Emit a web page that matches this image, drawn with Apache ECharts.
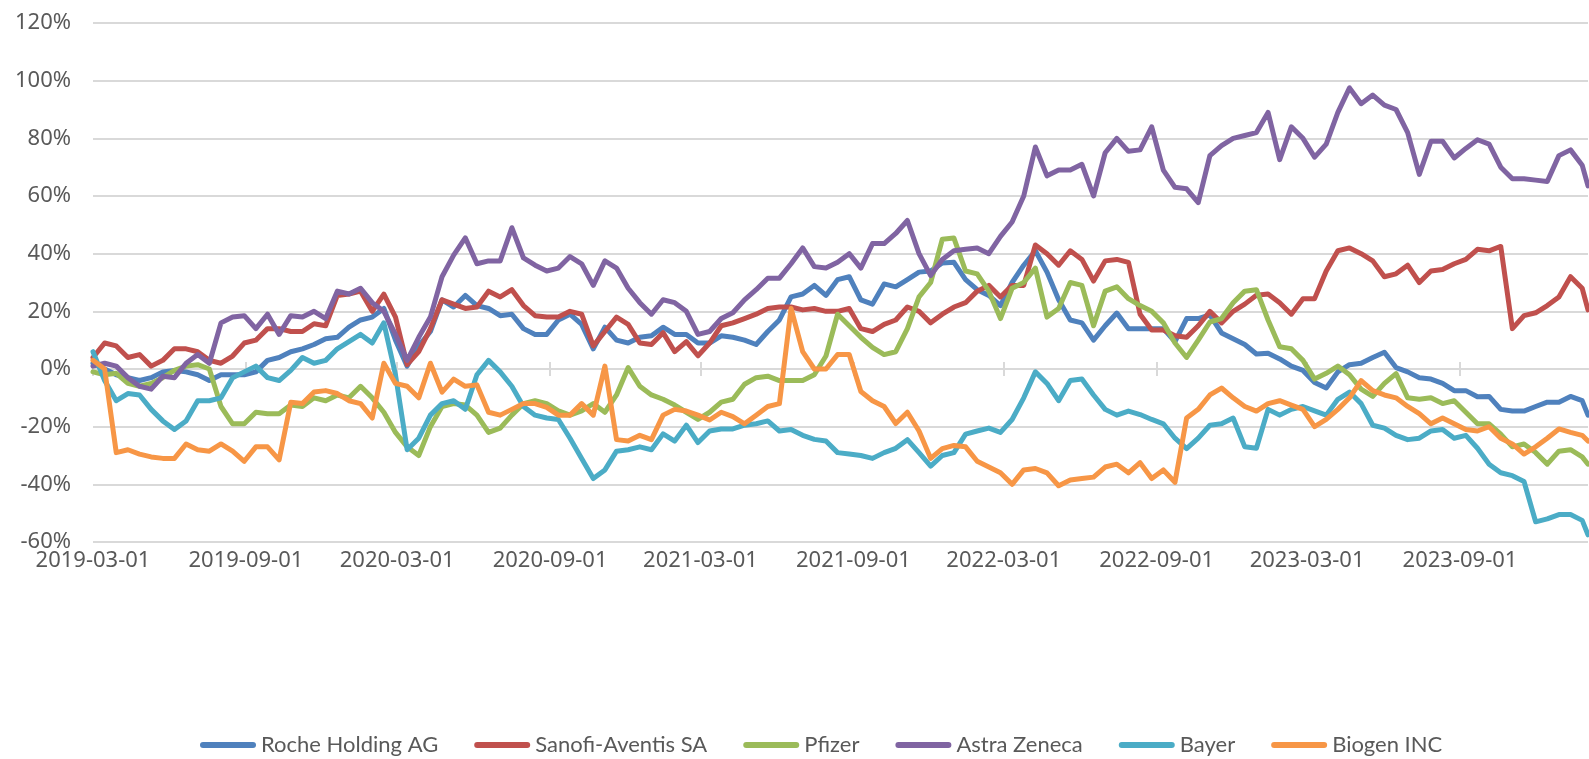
<!DOCTYPE html>
<html lang="en">
<head>
    <meta charset="utf-8">
    <script src="https://cdn.jsdelivr.net/npm/echarts@6/dist/echarts.min.js"></script>
</head>
<body style="margin:0">
<div id="main" style="width:1589px;height:759px;"></div>
<script type="text/javascript">
    // cumulative change since 2019-03-01, in %, read every two weeks
    var startDate = '2019-03-01';
    var stepDays = 14;
    var endDate = '2024-02-02';

    var tickLabels = ['2019-03-01', '2019-09-01', '2020-03-01', '2020-09-01', '2021-03-01',
        '2021-09-01', '2022-03-01', '2022-09-01', '2023-03-01', '2023-09-01'];

    var names = ['Roche Holding AG', 'Sanofi-Aventis SA', 'Pfizer', 'Astra Zeneca', 'Bayer', 'Biogen INC'];
    var colors = ['#4f81bd', '#c0504d', '#9bbb59', '#8064a2', '#4bacc6', '#f79646'];

    var roche = [2,0,-2,-3,-4,-3,-1,-0.5,-1,-2,-4,-2,-2,-2,-1,3,4,6,
        7,8.5,10.5,11,14.5,17,18,21,10,1,8,13,24,21.5,25.5,22,21,18.5,19,14,12,12,17,19,
        15.5,7,14.5,10,9,11,11.5,14.5,12,12,9,9,11.5,11,10,8.5,13,17,25,26,29,25.5,31,
        32,24,22.5,29.5,28.5,31,33.6,34,36.8,37,31,27.5,25.5,22,30,36,41,33.6,24,17,16,10,15,
        19.4,14,14,14,14,9.5,17.5,17.5,18.8,12.5,10.5,8.5,5.2,5.5,3.5,1,-0.5,-4.7,-6.6,-1,1.5,
        2,4,5.8,0.5,-1,-3,-3.5,-5,-7.5,-7.5,-9.6,-9.5,-14,-14.6,-14.6,-13,-11.5,-11.5,-9.5,-11,
        -16];
    var sanofi = [4,9,8,4,5,1,3,7,7,6,3,2,4.5,9,10,14,14,13,
        13,15.7,15,25.5,26,27,20,26,18,1.5,6,14,24,22.5,21,21.5,27,25,27.5,22,18.5,18,18,20,
        19,8,13,18,15.5,9,8.5,12.6,6,9.5,4.6,9,15,16,17.5,19,21,21.5,21.5,20.5,21,20,20,
        21,14,13,15.5,17,21.5,20,16,19,21.5,23,27,29,25,29,29,43,40,36,41,38,30.5,37.5,
        38,37,19,13.5,13.5,11.5,11,15,20,16,20,22.5,25.6,26,23,19,24.4,24.4,34,41,42,
        40,37.5,32,33,36,30,34,34.5,36.5,38,41.5,41,42.5,14,18.5,19.5,22,25,32,28,
        20.5];
    var pfizer = [-1,-2,-1.5,-5,-6,-5,-3,-0.5,1,1.5,0,-13,-19,-19,-15,-15.5,-15.5,-12.5,
        -13,-10,-11,-9,-10,-6,-10,-15,-22,-27,-30,-20,-13,-12,-12.5,-16,-22,-20.5,-16,-12,-11,-12,-14.5,-16,
        -14.5,-12,-15,-9,0.5,-6,-9,-10.5,-12.5,-15,-17.5,-15,-11.5,-10.5,-5.3,-3,-2.5,-4,-4,-4,-2,4.5,19,
        15,11,7.5,5,6,14,25,30,45,45.4,34,33,27,17.5,28,30,35,18,21,30,29,15,27,
        28.5,24.4,22,20,16,9,4,10,16.3,17.5,23,27,27.5,17,7.7,7,3,-3.5,-1.5,1,-2,
        -7,-9.5,-5,-1.6,-10,-10.5,-10,-12,-11,-15,-19,-19,-22.6,-27,-26,-29,-33,-28.5,-28,-30.5,
        -33];
    var astra = [1,2,1,-3,-6,-7,-2.5,-3,2,5,2,16,18,18.5,14,19,12,18.5,
        18,20,17.5,27,26,28,23,20,12,3,11,18,32,39.5,45.5,36.5,37.5,37.5,49,38.5,36,34,35,39,
        36.5,29,37.5,35,28,23,19,24,23,20,12,13,17.5,19.5,24,27.5,31.5,31.5,36.5,42,35.5,35,37,
        40,35,43.5,43.5,47,51.5,40,32.4,38,41,41.5,42,40,46,51,60,77,67,69,69,71,60,75,
        80,75.5,76,84,69,63,62.5,57.7,74,77.5,80,81,82,89,72.6,84,80,73.5,78,89,97.5,
        92,95,91.5,90,82,67.5,79,79,73.2,76.5,79.5,78,70,66,66,65.5,65,74,76,70.7,
        63.5];
    var bayer = [6,-4,-11,-8.5,-9,-14,-18,-21,-18,-11,-11,-10,-3,-1,1,-3,-4,-0.5,
        4,2,3,7,9.5,12,9,16,-2,-28,-24,-16,-12,-11,-14,-2,3,-1,-6,-13,-16,-17,-17.5,-24,
        -31,-38,-35,-28.5,-28,-27,-28,-22.5,-25,-19.5,-25.5,-21.5,-20.8,-20.8,-19.5,-19,-18,-21.5,-21,-23,-24.4,-25,-29,
        -29.5,-30,-31,-29,-27.5,-24.5,-29,-33.7,-30,-29,-22.6,-21.5,-20.5,-22,-17.5,-10,-1,-5,-11,-4,-3.5,-9,-14,
        -16,-14.6,-15.8,-17.5,-19,-24,-27.6,-24,-19.5,-19,-17,-27,-27.5,-14,-16,-14,-13,-14.5,-16,-10.5,-8,
        -12,-19.5,-20.5,-23,-24.5,-24,-21.5,-21,-24,-23,-27.5,-33,-36,-37,-39,-53,-52,-50.5,-50.5,-52.5,
        -57.5];
    var biogen = [3,0,-29,-28,-29.5,-30.5,-31,-31,-26,-28,-28.5,-26,-28.5,-32,-27,-27,-31.5,-11.5,
        -12,-8,-7.5,-8.5,-11,-12,-17,2,-5,-6,-10,2,-8,-3.5,-6,-5.5,-15,-16,-14,-12,-12,-13.3,-16,-16,
        -12,-16,1,-24.5,-25,-23,-24.5,-16,-14,-14.6,-16,-17.7,-15,-16.5,-19,-16,-13,-12,21,6,0,0,5,
        5,-7.8,-11,-13,-18.9,-15,-21.5,-31,-27.6,-26.5,-27,-32,-34,-36,-40,-35,-34.5,-36,-40.5,-38.5,-38,-37.5,-34,
        -33,-36,-32.5,-38,-35,-39.3,-17,-14,-9,-6.6,-10,-13,-14.6,-12,-11,-12.5,-14,-20,-17.5,-14,-10,
        -4,-7.5,-9,-10,-13,-15.5,-19,-17,-19,-21,-21.5,-20,-24,-26,-29.5,-27,-24,-20.8,-22,-23,
        -25];

    var seriesValues = [roche, sanofi, pfizer, astra, bayer, biogen];

    var t0 = new Date(startDate).getTime();
    var tEnd = new Date(endDate).getTime();
    var dates = [];
    for (var i = 0; i < roche.length - 1; i++) {
        dates.push(t0 + i * stepDays * 86400000);
    }
    dates.push(tEnd);

    var tickValues = tickLabels.map(function (s) { return new Date(s).getTime(); });
    var gray = '#595959';
    var lineGray = '#d9d9d9';

    var myChart = echarts.init(document.getElementById('main'));

    // x is a plain value axis holding timestamps, so the 6-month ticks can be placed exactly
    var baseX = { type: 'value', min: t0, max: tEnd, scale: true, splitLine: { show: false } };

    var option = {
        animation: false,
        grid: { left: 93, right: 1, top: 23, bottom: 217, outerBoundsMode: 'none' },
        legend: {
            data: names,
            left: 195,
            top: 729,
            itemWidth: 56,
            itemHeight: 6,
            itemGap: 36,
            icon: 'path://M3,0 L53,0 A3,3 0 0 1 53,6 L3,6 A3,3 0 0 1 3,0 Z',
            textStyle: { fontFamily: 'Lato', fontSize: 22, color: gray }
        },
        xAxis: [
            Object.assign({}, baseX, {
                axisLine: { show: false, onZero: false },
                axisTick: { show: false },
                axisLabel: {
                    customValues: tickValues,
                    formatter: function (v) { return new Date(v).toISOString().slice(0, 10); },
                    color: gray, fontFamily: 'Noto Sans', fontSize: 22, margin: 8
                }
            }),
            Object.assign({}, baseX, {
                axisLine: { onZero: true, onZeroAxisIndex: 0, lineStyle: { color: lineGray, width: 2 } },
                axisTick: { customValues: tickValues, length: 7, lineStyle: { color: lineGray, width: 2 } },
                axisLabel: { show: false }
            }),
            Object.assign({}, baseX, {
                axisLine: { onZero: true, onZeroAxisIndex: 0, lineStyle: { color: lineGray, width: 2 } },
                axisTick: { inside: true, customValues: tickValues, length: 7, lineStyle: { color: lineGray, width: 2 } },
                axisLabel: { show: false }
            })
        ],
        yAxis: {
            type: 'value', min: -60, max: 120, interval: 20,
            axisLine: { show: false },
            axisTick: { show: false },
            axisLabel: { formatter: '{value}%', color: gray, fontFamily: 'Noto Sans', fontSize: 22, margin: 22 },
            splitLine: { lineStyle: { color: lineGray, width: 2 } }
        },
        series: names.map(function (name, k) {
            return {
                name: name,
                type: 'line',
                xAxisIndex: 0,
                showSymbol: false,
                symbol: 'none',
                color: colors[k],
                lineStyle: { width: 5, color: colors[k], cap: 'round', join: 'round' },
                data: dates.map(function (d, j) { return [d, seriesValues[k][j]]; })
            };
        })
    };

    myChart.setOption(option);
</script>
</body>
</html>
